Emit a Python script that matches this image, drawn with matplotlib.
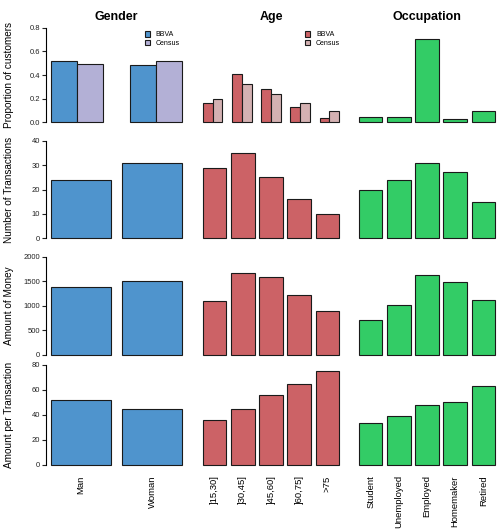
import matplotlib
matplotlib.use('Agg')
import matplotlib.pyplot as plt
from matplotlib.patches import Patch

plt.rcParams['font.family'] = ['Liberation Sans', 'DejaVu Sans']

# categories
gender = ['Man', 'Woman']
age = [']15,30]', ']30,45]', ']45,60]', ']60,75]', '>75']
occupation = ['Student', 'Unemployed', 'Employed', 'Homemaker', 'Retired']

# proportion of customers (BBVA vs Census)
gender_bbva = [0.52, 0.485]
gender_census = [0.49, 0.515]
age_bbva = [0.16, 0.41, 0.28, 0.13, 0.035]
age_census = [0.20, 0.32, 0.24, 0.16, 0.095]
occ_prop = [0.045, 0.04, 0.71, 0.03, 0.09]

# number of transactions
gender_trans = [24, 31]
age_trans = [29, 35, 25, 16, 10]
occ_trans = [20, 24, 31, 27, 15]

# amount of money
gender_money = [1375, 1515]
age_money = [1100, 1675, 1580, 1215, 895]
occ_money = [720, 1015, 1635, 1485, 1125]

# amount per transaction
gender_apt = [52, 44.5]
age_apt = [35.6, 45, 55.8, 64.3, 75.2]
occ_apt = [33.2, 39.3, 48.1, 50.2, 63.2]

titles = ['Gender', 'Age', 'Occupation']
ylabels = ['Proportion of customers', 'Number of Transactions',
           'Amount of Money', 'Amount per Transaction']
yticks = [[0, 0.2, 0.4, 0.6, 0.8], [0, 10, 20, 30, 40],
          [0, 500, 1000, 1500, 2000], [0, 20, 40, 60, 80]]
yticklabels = [['0.0', '0.2', '0.4', '0.6', '0.8'], None, None, None]

blue, lav = '#4F94CD', '#B3B0D6'
red, pink = '#CC6266', '#D4B1B2'
green = '#33CC66'

W, H = 501, 530
fig = plt.figure(figsize=(W / 100, H / 100), dpi=100)

cols_px = [(46, 187), (197.5, 344.5), (353.5, 500.5)]
rows_px = [(24.2, 125.8), (136.8, 242.2), (252.8, 358.9), (360.7, 469)]


def add_ax(r, c):
    x0, x1 = cols_px[c]
    y0, y1 = rows_px[r]
    return fig.add_axes([x0 / W, 1 - y1 / H, (x1 - x0) / W, (y1 - y0) / H])


def single(ax, vals, color):
    n = len(vals)
    lefts = [0.2 + i * 1.2 for i in range(n)]
    ax.bar(lefts, vals, width=1, align='edge', color=color,
           edgecolor='#1a1a1a', linewidth=0.8)
    lo, hi = 0.2, n * 1.2
    pad = 0.04 * (hi - lo)
    ax.set_xlim(lo - pad, hi + pad)
    return [l + 0.5 for l in lefts]


def paired(ax, v1, v2, c1, c2):
    n = len(v1)
    l1 = [1 + j * 3 for j in range(n)]
    l2 = [2 + j * 3 for j in range(n)]
    ax.bar(l1, v1, width=1, align='edge', color=c1, edgecolor='#1a1a1a', linewidth=0.8)
    ax.bar(l2, v2, width=1, align='edge', color=c2, edgecolor='#1a1a1a', linewidth=0.8)
    lo, hi = 1, 3 * n
    pad = 0.04 * (hi - lo)
    ax.set_xlim(lo - pad, hi + pad)
    return [l + 1 for l in l1]


data = [
    [None, None, occ_prop],
    [gender_trans, age_trans, occ_trans],
    [gender_money, age_money, occ_money],
    [gender_apt, age_apt, occ_apt],
]
colors = [blue, red, green]
labels = [gender, age, occupation]

for r in range(4):
    ymax = yticks[r][-1]
    for c in range(3):
        ax = add_ax(r, c)
        if r == 0 and c == 0:
            centers = paired(ax, gender_bbva, gender_census, blue, lav)
        elif r == 0 and c == 1:
            centers = paired(ax, age_bbva, age_census, red, pink)
        else:
            centers = single(ax, data[r][c], colors[c])
        ax.set_ylim(-0.04 * ymax, 1.04 * ymax)
        for s in ['top', 'right', 'bottom']:
            ax.spines[s].set_visible(False)
        if c == 0:
            ax.spines['left'].set_bounds(0, ymax)
            ax.spines['left'].set_linewidth(0.8)
            ax.set_yticks(yticks[r])
            if yticklabels[r]:
                ax.set_yticklabels(yticklabels[r])
            ax.tick_params(axis='y', labelsize=5.5, length=3, width=0.8, pad=1.5,
                           colors='#222222')
            y0, y1 = rows_px[r]
            fig.text(9 / W, 1 - (y0 + y1) / 2 / H, ylabels[r], rotation=90,
                     ha='center', va='center', fontsize=7.2)
        else:
            ax.spines['left'].set_visible(False)
            ax.set_yticks([])
        if r == 3:
            ax.set_xticks(centers)
            ax.set_xticklabels(labels[c], rotation=90, fontsize=6.8, va='top')
            ax.tick_params(axis='x', length=0, pad=4.5)
        else:
            ax.set_xticks([])
        if r == 0:
            ax.set_title(titles[c], fontsize=9, fontweight='bold', pad=3)
            if c < 2:
                cc = [(blue, lav), (red, pink)][c]
                handles = [Patch(facecolor=cc[0], edgecolor='#1a1a1a', linewidth=0.8),
                           Patch(facecolor=cc[1], edgecolor='#1a1a1a', linewidth=0.8)]
                ax.legend(handles, ['BBVA', 'Census'], loc='upper left',
                          bbox_to_anchor=([0.70, 0.73][c], 0.93), frameon=False,
                          fontsize=5, handlelength=0.7, handleheight=0.8,
                          handletextpad=0.9, labelspacing=0.25, borderpad=0,
                          borderaxespad=0)

fig.savefig('out.png', dpi=100)
